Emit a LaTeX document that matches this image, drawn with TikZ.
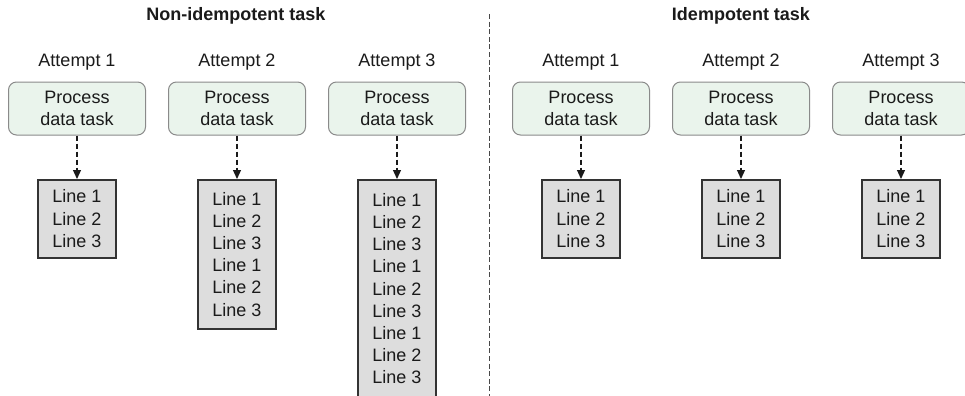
\documentclass[tikz,border=0pt]{standalone}
\usepackage{fontspec}
\setmainfont{Liberation Sans}
\usetikzlibrary{positioning, arrows.meta}
\definecolor{Ink}{HTML}{1A1A1A}
\definecolor{TaskFill}{HTML}{EAF4EC}
\definecolor{TaskEdge}{HTML}{8A8A8A}
\definecolor{LinesFill}{HTML}{DDDDDD}
\definecolor{LinesEdge}{HTML}{333333}
\tikzset{
    tasknode/.style={rectangle, rounded corners=4pt, fill=TaskFill, draw=TaskEdge, line width=0.5pt, text=Ink, align=center, minimum width=68.5pt, minimum height=26.5pt, inner sep=0pt, font=\fontsize{9}{11.3}\selectfont},
    linesnode/.style={rectangle, fill=LinesFill, draw=LinesEdge, line width=0.75pt, text=Ink, align=center, minimum width=39pt, inner sep=0pt, anchor=north, font=\fontsize{9}{11.1}\selectfont},
    attemptlabel/.style={text=Ink, inner sep=0pt, font=\fontsize{9}{11}\selectfont},
    sidetitle/.style={text=Ink, inner sep=0pt, font=\bfseries\fontsize{9}{11}\selectfont},
    flow/.style={-{Triangle[length=4.5pt, width=4pt]}, line width=0.6pt, Ink, dash pattern=on 2.5pt off 1.5pt},
    divider/.style={line width=0.5pt, Ink!80, dash pattern=on 2.5pt off 1.3pt},
}
\begin{document}
\begin{tikzpicture}[x=0.5pt, y=-0.5pt]
    \useasboundingbox (0,0) rectangle (965,396);

    % Titoli
    \node[sidetitle] (titleN) at (236,16) {Non-idempotent task};
    \node[sidetitle] (titleI) at (741,16) {Idempotent task};

    % Separatore
    \coordinate (sepTop) at (489,14);
    \coordinate (sepBot) at (489,400);
    \draw[divider] (sepTop) -- (sepBot);

    % Task non idempotente
    \node[attemptlabel] (na1) at (77,62) {Attempt 1};
    \node[attemptlabel] (na2) at (237,62) {Attempt 2};
    \node[attemptlabel] (na3) at (397,62) {Attempt 3};

    \node[tasknode] (nt1) at (77,108.5) {Process\\data task};
    \node[tasknode] (nt2) at (237,108.5) {Process\\data task};
    \node[tasknode] (nt3) at (397,108.5) {Process\\data task};

    \node[linesnode, minimum height=39pt] (nl1) at (77,179) {Line 1\\Line 2\\Line 3};
    \node[linesnode, minimum height=74.5pt] (nl2) at (237,179) {Line 1\\Line 2\\Line 3\\Line 1\\Line 2\\Line 3};
    \node[linesnode, minimum height=109pt] (nl3) at (397,179) {Line 1\\Line 2\\Line 3\\Line 1\\Line 2\\Line 3\\Line 1\\Line 2\\Line 3};

    \draw[flow] (nt1) -- (nl1);
    \draw[flow] (nt2) -- (nl2);
    \draw[flow] (nt3) -- (nl3);

    % Task idempotente
    \node[attemptlabel] (ia1) at (581,62) {Attempt 1};
    \node[attemptlabel] (ia2) at (741,62) {Attempt 2};
    \node[attemptlabel] (ia3) at (901,62) {Attempt 3};

    \node[tasknode] (it1) at (581,108.5) {Process\\data task};
    \node[tasknode] (it2) at (741,108.5) {Process\\data task};
    \node[tasknode] (it3) at (901,108.5) {Process\\data task};

    \node[linesnode, minimum height=39pt] (il1) at (581,179) {Line 1\\Line 2\\Line 3};
    \node[linesnode, minimum height=39pt] (il2) at (741,179) {Line 1\\Line 2\\Line 3};
    \node[linesnode, minimum height=39pt] (il3) at (901,179) {Line 1\\Line 2\\Line 3};

    \draw[flow] (it1) -- (il1);
    \draw[flow] (it2) -- (il2);
    \draw[flow] (it3) -- (il3);

\end{tikzpicture}
\end{document}
